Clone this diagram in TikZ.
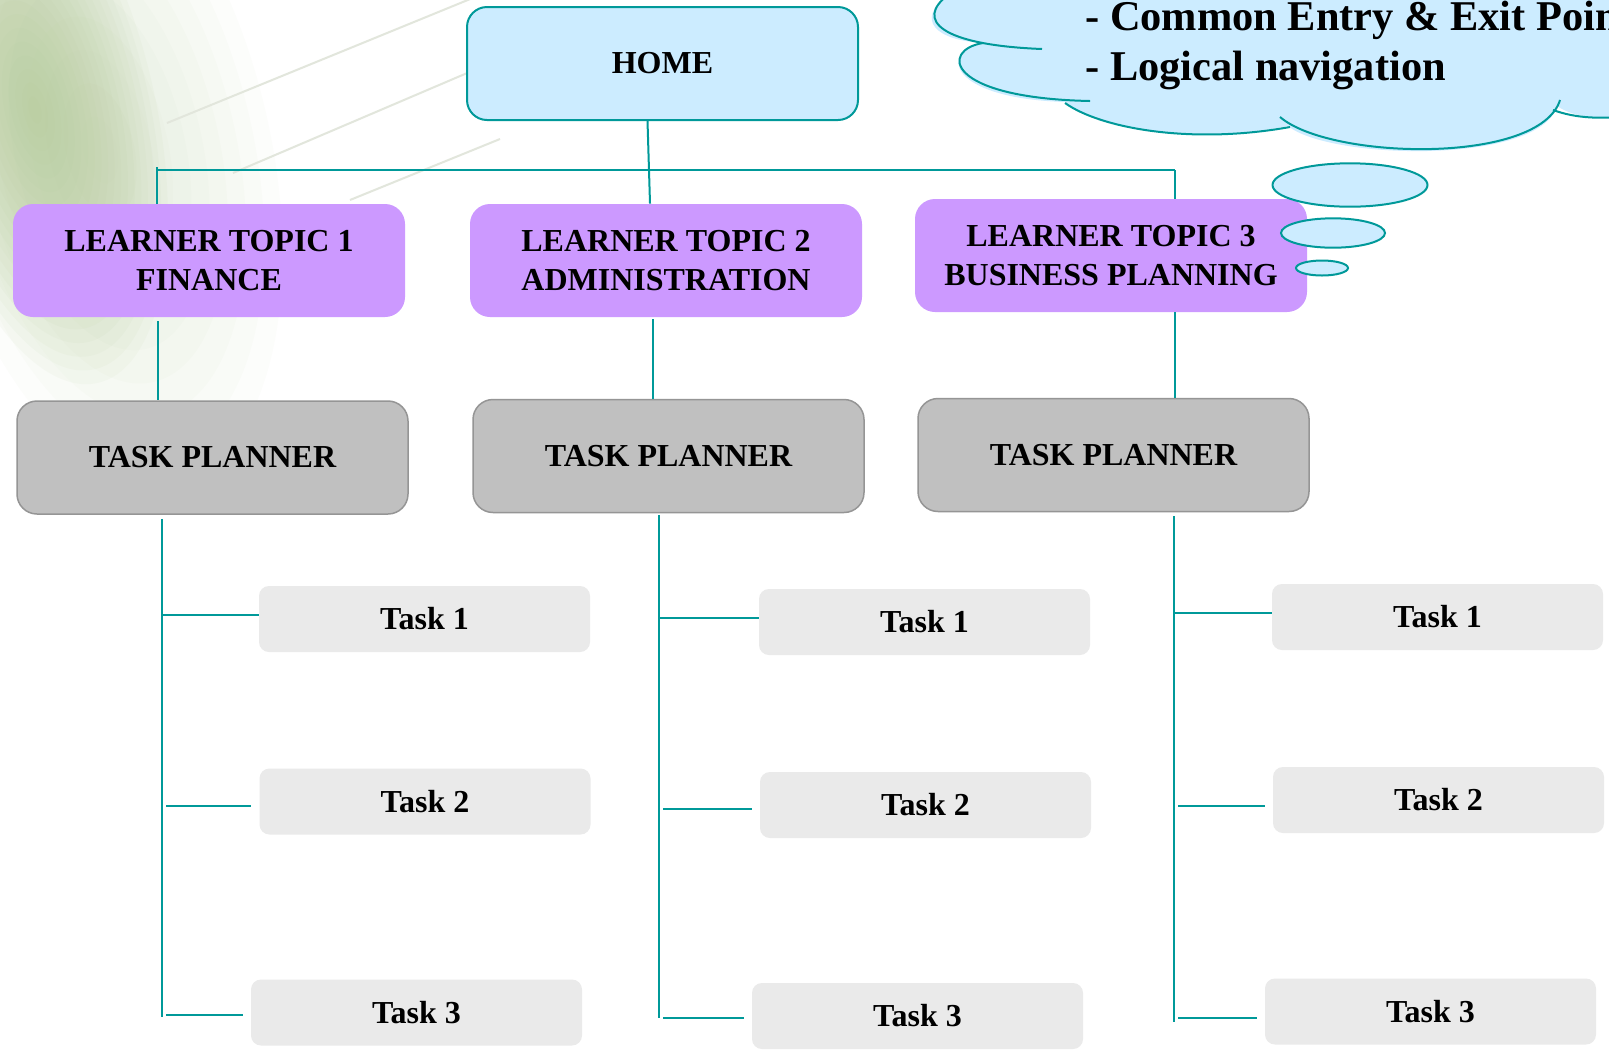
\documentclass[tikz,border=0pt]{standalone}
\usepackage{fontspec}
\setmainfont{Liberation Serif}
\definecolor{homeblue}{HTML}{CCECFF}
\definecolor{topicpurple}{HTML}{CC99FF}
\definecolor{plannergray}{HTML}{C0C0C0}
\definecolor{plannerline}{HTML}{959595}
\definecolor{taskgray}{HTML}{EAEAEA}
\definecolor{linkteal}{HTML}{009999}
\definecolor{bggreen}{HTML}{AFC790}
\definecolor{bgline}{HTML}{E2E6DC}

\begin{document}
\begin{tikzpicture}[x=0.5pt,y=-0.5pt]
				\tikzstyle{every node}=[font=\fontsize{16}{19.5}\selectfont\bfseries,align=center,inner sep=0pt]
				\tikzstyle{homebox}=[fill=homeblue,draw=linkteal,line width=1pt,rounded corners=10pt,
				minimum width=195.5pt,minimum height=56.5pt]
				\tikzstyle{topicbox}=[fill=topicpurple,rounded corners=10pt,minimum width=196pt,minimum height=56.5pt]
				\tikzstyle{plannerbox}=[fill=plannergray,draw=plannerline,line width=0.75pt,rounded corners=10pt,
				minimum width=195.5pt,minimum height=56.5pt]
				\tikzstyle{taskbox}=[fill=taskgray,rounded corners=5pt,minimum width=165.5pt,minimum height=33pt]
				\tikzstyle{link}=[draw=linkteal,line width=1pt]
				\tikzstyle{twig}=[link,shorten <=2pt,shorten >=4pt]
				\tikzstyle{bubble}=[fill=homeblue,draw=linkteal,line width=1pt]
				\tikzstyle{note}=[anchor=base west,align=left,font=\fontsize{21.2}{25}\selectfont\bfseries]
				\useasboundingbox (0,0) rectangle (1609,1056);
				\clip (0,0) rectangle (1609,1056);
				\fill[white] (0,0) rectangle (1609,1056);
				\begin{scope}[shift={(100,150)},rotate=13]
					\foreach \k in {1,...,10}
					\fill[bggreen,opacity=0.03] (0,0) ellipse [x radius=17*\k,y radius=34*\k];
				\end{scope}
				\begin{scope}[shift={(35,110)},rotate=13]
					\foreach \k in {1,...,20}
					\fill[bggreen,opacity=0.06] (0,0) ellipse [x radius=6*\k,y radius=14*\k];
				\end{scope}
				\draw[bgline,line width=1pt] (167,123) -- (480,-5);
				\draw[bgline,line width=1pt] (233,173) -- (500,59);
				\draw[bgline,line width=1pt] (350,200) -- (500,139);
				\fill[homeblue] (948,-10) -- (948,-5) .. controls (915,20) and (935,40) .. (983,43)
				.. controls (940,50) and (945,98) .. (1065,102)
				.. controls (1100,128) and (1190,145) .. (1288,126)
				.. controls (1330,160) and (1540,165) .. (1557,106)
				.. controls (1575,118) and (1600,120) .. (1640,115) -- (1640,-10) -- cycle;
				\draw[link] (948,-5) .. controls (915,20) and (940,45) .. (1042,49);
				\draw[link] (983,43) .. controls (940,50) and (945,98) .. (1090,101);
				\draw[link] (1065,103) .. controls (1100,128) and (1190,145) .. (1290,127);
				\draw[link] (1280,117) .. controls (1330,160) and (1540,165) .. (1560,100);
				\draw[link] (1553,110) .. controls (1575,118) and (1600,120) .. (1640,115);
				\node[note] (note1) at (1085,30) {- Common Entry \& Exit Point};
				\node[note] (note2) at (1085,80) {- Logical navigation};
				\node[homebox] (home) at (662.5,63.5) {HOME};
				\node[topicbox] (fin) at (209,260.5) {LEARNER TOPIC 1\\FINANCE};
				\node[topicbox] (adm) at (666,260.5) {LEARNER TOPIC 2\\ADMINISTRATION};
				\node[topicbox] (bus) at (1111,255.5) {LEARNER TOPIC 3\\BUSINESS PLANNING};
				\draw[bubble] (1350,185) ellipse [x radius=77.5,y radius=21.7];
				\draw[bubble] (1333,233) ellipse [x radius=52,y radius=14.7];
				\draw[bubble] (1322,268) ellipse [x radius=26,y radius=7.5];
				\node[plannerbox] (plan1) at (212.5,457.5) {TASK PLANNER};
				\node[plannerbox] (plan2) at (668.5,456) {TASK PLANNER};
				\node[plannerbox] (plan3) at (1113.5,455) {TASK PLANNER};
				\node[taskbox] (task11) at (424.5,619) {Task 1};
				\node[taskbox] (task12) at (425,801.5) {Task 2};
				\node[taskbox] (task13) at (416.5,1012.5) {Task 3};
				\node[taskbox] (task21) at (924.5,622) {Task 1};
				\node[taskbox] (task22) at (925.5,805) {Task 2};
				\node[taskbox] (task23) at (917.5,1016) {Task 3};
				\node[taskbox] (task31) at (1437.5,617) {Task 1};
				\node[taskbox] (task32) at (1438.5,800) {Task 2};
				\node[taskbox] (task33) at (1430.5,1011.5) {Task 3};
				\coordinate (busl) at (157,170);
				\coordinate (busr) at (1175,170);
				\coordinate (up1) at (158,0);
				\coordinate (up2) at (653,0);
				\coordinate (up3) at (1175,0);
				\coordinate (sp1) at (162,0);
				\coordinate (sp2) at (659,0);
				\coordinate (sp3) at (1174,0);
				\draw[link] (busl) -- (busr);
				\draw[link] ([yshift=1.5pt]busl) -- (busl |- fin.north);
				\draw[link] ([xshift=-7.5pt]home.south) -- ([xshift=-8pt]adm.north);
				\draw[link] (busr) -- (busr |- bus.north);
				\draw[link] ([yshift=-2pt]up1 |- fin.south) -- (up1 |- plan1.north);
				\draw[link] ([yshift=-1pt]up2 |- adm.south) -- (up2 |- plan2.north);
				\draw[link] (up3 |- bus.south) -- (up3 |- plan3.north);
				\draw[link] ([yshift=-2pt]sp1 |- plan1.south) -- ([yshift=-2pt]sp1 |- task13.west);
				\draw[link] ([yshift=-1pt]sp2 |- plan2.south) -- ([yshift=-1pt]sp2 |- task23.west);
				\draw[link] ([yshift=-2pt]sp3 |- plan3.south) -- ([yshift=-5pt]sp3 |- task33.west);
				\draw[link] ([yshift=2pt]sp1 |- task11.west) -- ([yshift=2pt]task11.west);
				\draw[twig] ([yshift=-2pt]sp1 |- task12.west) -- ([yshift=-2pt]task12.west);
				\draw[twig] ([yshift=-1pt]sp1 |- task13.west) -- ([yshift=-1pt]task13.west);
				\draw[link] ([yshift=2pt]sp2 |- task21.west) -- ([yshift=2pt]task21.west);
				\draw[twig] ([yshift=-2pt]sp2 |- task22.west) -- ([yshift=-2pt]task22.west);
				\draw[twig] ([yshift=-1pt]sp2 |- task23.west) -- ([yshift=-1pt]task23.west);
				\draw[link] ([yshift=2pt]sp3 |- task31.west) -- ([yshift=2pt]task31.west);
				\draw[twig] ([yshift=-3pt]sp3 |- task32.west) -- ([yshift=-3pt]task32.west);
				\draw[twig] ([yshift=-3pt]sp3 |- task33.west) -- ([yshift=-3pt]task33.west);
\end{tikzpicture}
\end{document}
